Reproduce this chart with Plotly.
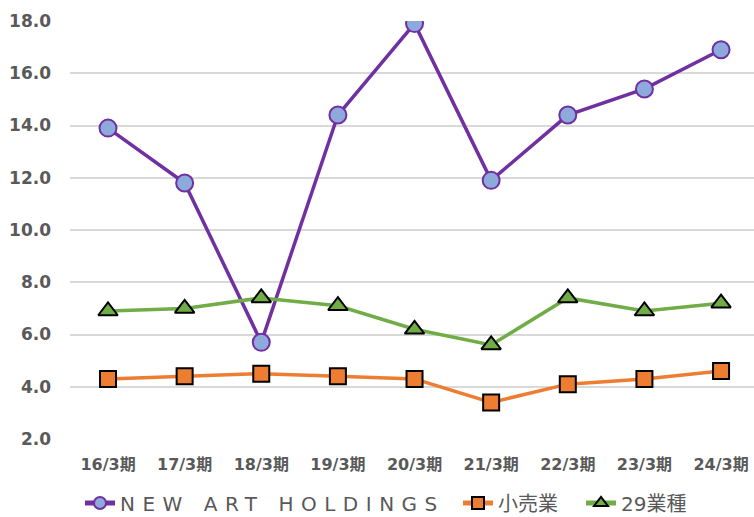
import plotly.graph_objects as go

categories = ["16/3期", "17/3期", "18/3期", "19/3期", "20/3期", "21/3期", "22/3期", "23/3期", "24/3期"]
new_art = [13.9, 11.8, 5.7, 14.4, 17.9, 11.9, 14.4, 15.4, 16.9]
retail = [4.3, 4.4, 4.5, 4.4, 4.3, 3.4, 4.1, 4.3, 4.6]
industries29 = [6.9, 7.0, 7.4, 7.1, 6.2, 5.6, 7.4, 6.9, 7.2]
series_names = ["NEW ART HOLDINGS", "小売業", "29業種"]
y_ticks = [2, 4, 6, 8, 10, 12, 14, 16, 18]
y_tick_labels = ["2.0", "4.0", "6.0", "8.0", "10.0", "12.0", "14.0", "16.0", "18.0"]

FONT = "DejaVu Sans, Noto Sans CJK JP, sans-serif"
GRAY = "#595959"

fig = go.Figure()
fig.add_trace(go.Scatter(
    x=list(range(len(categories))), y=new_art, name=series_names[0], mode="lines+markers",
    line=dict(color="#7030A0", width=3.5),
    marker=dict(symbol="circle", size=17, color="#8EA9DB", line=dict(color="#7030A0", width=2)),
    legend="legend",
))
fig.add_trace(go.Scatter(
    x=list(range(len(categories))), y=retail, name=series_names[1], mode="lines+markers",
    line=dict(color="#ED7D31", width=3.5),
    marker=dict(symbol="square", size=16, color="#ED7D31", line=dict(color="#000000", width=2)),
    legend="legend2",
))
fig.add_trace(go.Scatter(
    x=list(range(len(categories))), y=industries29, name=series_names[2], mode="lines+markers",
    line=dict(color="#70AD47", width=3.5),
    marker=dict(symbol="triangle-up", size=17, color="#70AD47", line=dict(color="#000000", width=2)),
    legend="legend3",
))

legend_common = dict(
    orientation="h", xref="container", yref="container", yanchor="middle",
    y=1 - 503 / 517, xanchor="left", itemsizing="constant",
    font=dict(family=FONT, size=20, color=GRAY), bgcolor="rgba(0,0,0,0)",
    borderwidth=0, tracegroupgap=0,
)

fig.update_layout(
    width=754, height=517,
    margin=dict(l=70, r=0, t=21, b=78, autoexpand=False),
    paper_bgcolor="white", plot_bgcolor="white",
    showlegend=True,
    legend=dict(legend_common, x=(82 - 2) / 754),
    legend2=dict(legend_common, x=(460 - 2) / 754),
    legend3=dict(legend_common, x=(583 - 2) / 754),
    xaxis=dict(
        range=[-0.496, 8.43], tickmode="array",
        tickvals=list(range(len(categories))), ticktext=categories,
        showgrid=False, zeroline=False, showline=False, ticks="",
        tickfont=dict(family=FONT, size=16, color=GRAY, weight="bold"),
        ticklabelstandoff=14, automargin=False,
    ),
    yaxis=dict(
        range=[2, 18], tickmode="array", tickvals=y_ticks, ticktext=y_tick_labels,
        showgrid=True, gridcolor="#D9D9D9", gridwidth=1.5, zeroline=False,
        showline=False, ticks="",
        tickfont=dict(family=FONT, size=17, color=GRAY, weight="bold"),
        ticklabelstandoff=18, automargin=False,
    ),
)

post = """
document.body.style.margin = '0';
document.body.style.padding = '0';
document.documentElement.style.margin = '0';
var gd = document.getElementById('{plot_id}');
function fixSpacing(){
  gd.querySelectorAll('.legendtext').forEach(function(t){
    if (t.textContent.indexOf('NEW') === 0) { t.style.letterSpacing = '7.5px'; }
  });
  gd.querySelectorAll('.legend').forEach(function(lg){
    lg.removeAttribute('clip-path');
    lg.querySelectorAll('.scrollbox').forEach(function(s){ s.removeAttribute('clip-path'); });
    var bg = lg.querySelector('rect.bg');
    if (bg) { bg.setAttribute('width', '420'); bg.setAttribute('height', '34'); }
  });
  gd.querySelectorAll('clipPath[id*="legend"] rect').forEach(function(r){
    r.setAttribute('width', '420'); r.setAttribute('height', '34');
  });
}
fixSpacing();
gd.on('plotly_afterplot', fixSpacing);
setTimeout(fixSpacing, 50);
"""

fig.write_html("out.html", post_script=post, config={"displayModeBar": False})
